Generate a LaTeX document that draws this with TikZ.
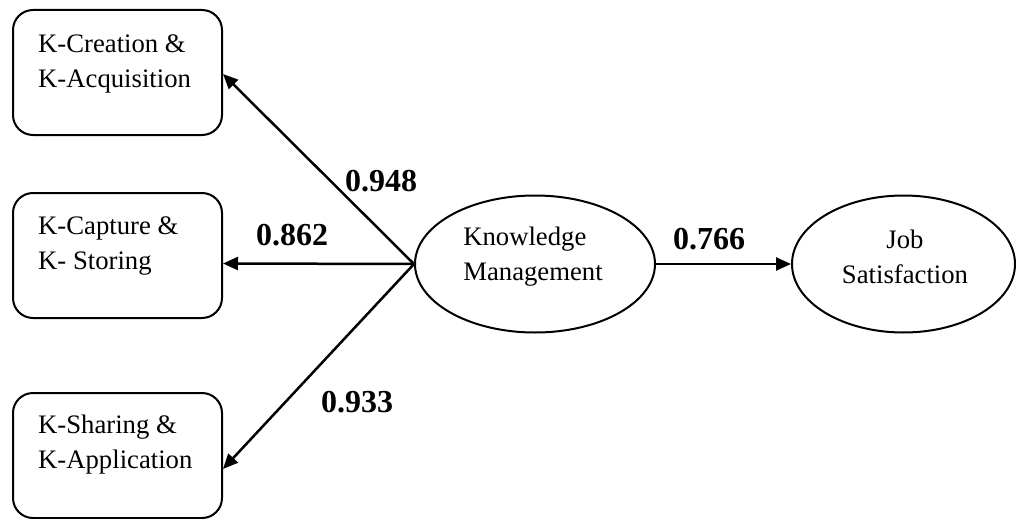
\documentclass[tikz,border=0pt]{standalone}
\usepackage{fontspec}
\setmainfont{Liberation Serif}
\usetikzlibrary{arrows.meta,shapes.geometric,calc}
\begin{document}
\begin{tikzpicture}[x=1pt,y=-1pt,
 box/.style={draw,line width=2pt,rounded corners=20pt,minimum width=209pt,minimum height=125pt,inner sep=0pt},
 latent/.style={draw,ellipse,line width=2pt,inner sep=0pt},
 txt/.style={font=\fontsize{26.7}{35}\selectfont,inner sep=0pt},
 coef/.style={font=\fontsize{32}{38}\selectfont\bfseries,inner sep=0pt},
 arr/.style={line width=2.5pt,-{Triangle[length=15pt,width=13pt]}}]
\useasboundingbox (0,0) rectangle (1020,519);
% boxes
\node[box] (b1) at (117.5,72.5) {};
\node[box] (b2) at (117.5,255.5) {};
\node[box] (b3) at (117.5,455.5) {};
\node[txt,align=left,anchor=west] (t1) at (38,64) {K-Creation \&\\K-Acquisition};
\node[txt,align=left,anchor=west] (t2) at (38,246) {K-Capture \&\\K- Storing};
\node[txt,align=left,anchor=west] (t3) at (38,445) {K-Sharing \&\\K-Application};
% ellipses
\node[latent,minimum width=240pt,minimum height=137pt] (km) at (535,264) {};
\node[txt,align=left] (kmt) at (533,257) {Knowledge\\Management};
\node[latent,minimum width=223pt,minimum height=137pt] (js) at (903.5,264) {};
\node[txt,align=center] (jst) at (905,257) {Job\\Satisfaction};
% connectors
\coordinate (hub) at (km.west);
\coordinate (e1) at ($(b1.north east)+(0,65)$);
\coordinate (e2) at ($(b2.north east)+(0,71.5)$);
\coordinate (e3) at ($(b3.north east)+(0,77)$);
\draw[arr] (hub) -- (e1);
\draw[arr] (hub) -- (e2);
\draw[arr] (hub) -- (e3);
\draw[arr] (km.east) -- (js.west);
% coefficients
\node[coef] (c1) at (381,181) {0.948};
\node[coef] (c2) at (292,235) {0.862};
\node[coef] (c3) at (357,402) {0.933};
\node[coef] (c4) at (709,239) {0.766};
\end{tikzpicture}
\end{document}
